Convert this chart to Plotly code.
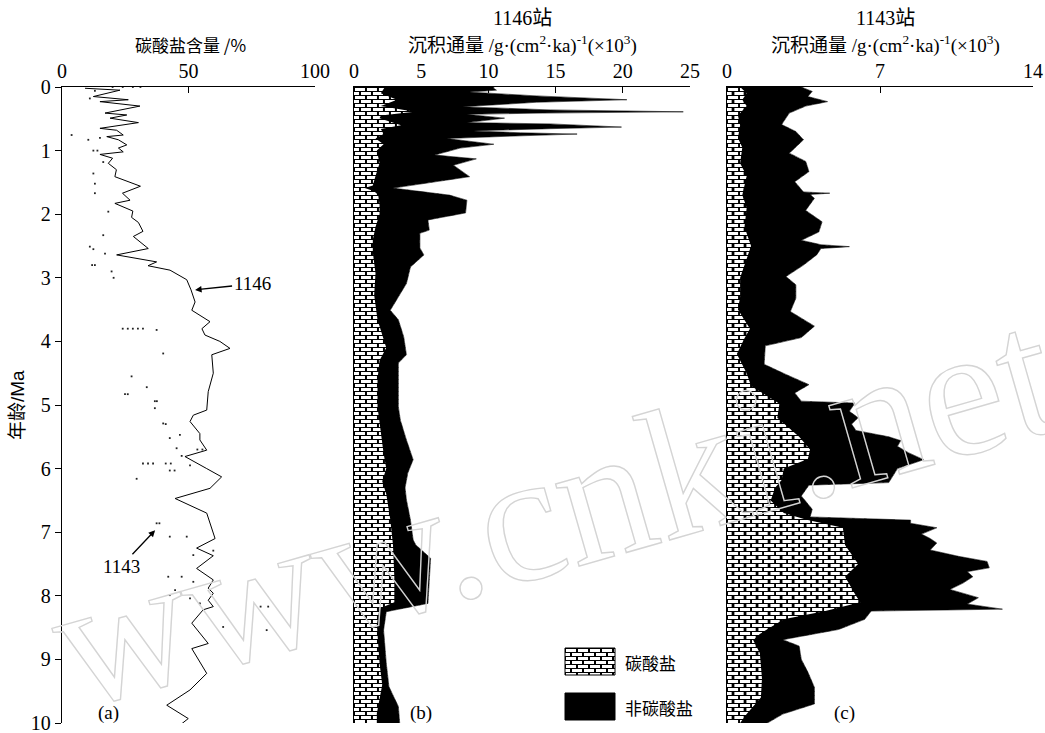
import base64
import plotly.graph_objects as go

# ---------------- data ----------------
# (a) carbonate content, site 1146 (solid line)
age_1146_pct = [0.02, 0.05, 0.15, 0.20, 0.23, 0.30, 0.41, 0.44, 0.49, 0.56,
                0.65, 0.68, 0.755, 0.78, 0.83, 0.91, 0.96, 1.02, 1.06, 1.12,
                1.20, 1.30, 1.41, 1.56, 1.67, 1.78, 1.83, 1.95, 2.05, 2.13,
                2.27, 2.35, 2.54, 2.64, 2.75, 2.81, 2.88, 3.03, 3.19, 3.38,
                3.51, 3.69, 3.80, 3.90, 4.00, 4.11, 4.21, 4.50, 4.79, 5.08,
                5.16, 5.26, 5.45, 5.55, 5.71, 5.81, 6.00, 6.13, 6.31, 6.47,
                6.70, 7.10, 7.25, 7.37, 7.57, 7.75, 7.88, 7.96, 8.07, 8.17,
                8.22, 8.43, 8.75, 8.83, 9.22, 9.48, 9.72, 9.93, 10.06]
pct_1146 = [9.1, 22.9, 12.4, 26.2, 15.0, 30.8, 17.0, 25.6, 19.0, 30.2,
            15.0, 21.6, 24.2, 17.7, 22.3, 25.6, 22.3, 24.2, 15.0, 20.0,
            18.3, 21.5, 20.9, 31.0, 23.9, 26.9, 20.9, 28.0, 27.5, 30.2,
            32.0, 28.2, 34.1, 21.6, 37.4, 34.0, 42.7, 49.3, 51.0, 52.6,
            51.3, 58.5, 55.3, 56.5, 62.4, 66.4, 59.2, 59.8, 57.8, 57.2,
            51.9, 50.6, 54.5, 54.5, 57.2, 48.6, 57.2, 63.1, 58.5, 44.7,
            57.2, 60.5, 53.2, 59.8, 53.2, 59.8, 57.8, 59.8, 57.8, 59.8,
            55.8, 51.3, 57.8, 51.3, 57.2, 50.6, 41.4, 49.9, 45.8]

# (a) carbonate content, site 1143 (dotted)
age_1143_pct = [0.00, 0.00, 0.00, 0.00, 0.06, 0.18, 0.755, 0.80, 0.83, 1.00,
                1.00, 1.18, 1.36, 1.52, 1.67, 1.96, 2.33, 2.51, 2.55, 2.62,
                2.80, 2.80, 2.90, 3.00, 3.80, 3.80, 3.80, 3.80, 3.80, 3.82,
                4.19, 4.55, 4.72, 4.83, 4.83, 4.94, 4.94, 5.05, 5.29, 5.30,
                5.47, 5.52, 5.68, 5.70, 5.70, 5.80, 5.92, 5.92, 5.92, 5.92,
                5.92, 5.95, 6.03, 6.03, 6.16, 6.86, 6.86, 7.07, 7.07, 7.29,
                7.36, 7.70, 7.70, 7.78, 7.91, 7.99, 8.04, 8.12, 8.17, 8.17,
                8.49, 8.54]
pct_1143 = [20, 24, 28, 31, 13, 11, 3.8, 15.0, 10.4, 12.4,
            14.0, 16.3, 12.4, 13.0, 13.0, 18.3, 16.3, 11.0, 12.4, 17.0,
            11.9, 13.0, 19.6, 20.4, 24, 26, 28, 30, 32, 37.4,
            40.0, 27.5, 33.5, 24.9, 26.0, 36.7, 37.5, 36.7, 40.0, 41.0,
            46.6, 42.6, 45.3, 53.5, 55.5, 47.3, 32, 34, 36, 41,
            43, 50.6, 42.6, 44.5, 29.5, 37.4, 38.5, 42.6, 49.3, 59.8,
            51.9, 42.0, 47.3, 51.9, 44.7, 42.6, 50.6, 54.5, 78.5, 81.5,
            63.7, 80.9]

# (b) site 1146 mass accumulation rate: total and carbonate part
age_1146_tot = [0.00, 0.02, 0.05, 0.08, 0.14, 0.20, 0.24, 0.31, 0.36, 0.39,
                0.41, 0.43, 0.49, 0.56, 0.58, 0.63, 0.655, 0.69, 0.72, 0.74,
                0.77, 0.81, 0.90, 0.96, 1.07, 1.13, 1.23, 1.41, 1.59, 1.70,
                1.78, 1.98, 2.09, 2.25, 2.30, 2.53, 2.64, 2.83, 3.09, 3.51,
                3.66, 3.93, 4.21, 4.34, 5.03, 5.24, 5.55, 5.86, 6.07, 6.30,
                6.49, 6.81, 7.12, 7.20, 7.41, 8.12, 8.25, 8.54, 9.06, 9.43,
                9.74, 10.0]
tot_1146 = [10.4, 10.4, 10.6, 8.6, 13.6, 20.3, 13.6, 8.1, 14.6, 24.5,
            14.0, 8.4, 11.2, 8.4, 14.6, 19.9, 14.6, 8.9, 12.4, 16.6,
            12.0, 6.9, 10.4, 7.9, 6.0, 9.1, 7.4, 8.6, 2.9, 7.1,
            8.4, 8.3, 5.5, 5.6, 4.9, 4.9, 5.2, 4.2, 3.9, 2.7,
            3.3, 3.7, 3.9, 3.3, 3.3, 3.45, 3.9, 4.4, 4.0, 3.8,
            3.9, 4.2, 4.4, 4.6, 5.7, 5.5, 2.4, 2.2, 2.4, 2.6,
            3.3, 3.4]
age_1146_carb = [0.00, 0.10, 0.20, 0.30, 0.39, 0.45, 0.49, 0.60, 0.66, 0.74,
                 0.81, 0.90, 1.00, 1.20, 1.40, 1.55, 1.59, 1.64, 1.70, 1.85,
                 2.00, 2.20, 2.40, 2.60, 2.93, 3.27, 3.66, 4.10, 4.30, 4.60,
                 5.03, 5.45, 5.76, 6.00, 6.20, 6.40, 6.80, 7.20, 7.70, 8.10,
                 8.20, 8.45, 9.06, 9.40, 9.85, 10.0]
carb_1146 = [2.3, 2.0, 3.2, 2.0, 4.5, 2.0, 1.9, 3.5, 2.0, 2.2,
             1.6, 2.2, 1.7, 1.9, 1.6, 1.4, 0.8, 1.5, 1.8, 1.9,
             1.9, 1.6, 1.4, 1.4, 1.6, 1.5, 1.75, 2.4, 1.9, 1.75,
             1.75, 2.0, 2.2, 2.4, 2.1, 2.4, 2.7, 2.9, 3.0, 3.0,
             1.9, 1.7, 1.9, 2.1, 1.7, 1.7]

# (c) site 1143 mass accumulation rate: total and carbonate part
age_1143_tot = [0.00, 0.07, 0.15, 0.23, 0.30, 0.41, 0.59, 0.70, 0.83, 0.95,
                1.04, 1.17, 1.33, 1.49, 1.65, 1.67, 1.69, 1.75, 1.94, 2.12,
                2.28, 2.41, 2.48, 2.51, 2.54, 2.64, 2.80, 2.98, 3.11, 3.32,
                3.53, 3.76, 3.94, 4.07, 4.36, 4.52, 4.68, 4.81, 4.94, 4.97,
                5.10, 5.20, 5.30, 5.40, 5.50, 5.56, 5.65, 5.75, 5.86, 6.00,
                6.15, 6.22, 6.26, 6.43, 6.64, 6.76, 6.81, 6.86, 6.93, 7.03,
                7.10, 7.17, 7.28, 7.38, 7.46, 7.56, 7.62, 7.70, 7.80, 7.90,
                8.03, 8.13, 8.21, 8.24, 8.37, 8.53, 8.69, 8.79, 9.00, 9.20,
                9.44, 9.70, 9.86, 10.0]
tot_1143 = [3.4, 3.9, 3.7, 4.6, 3.6, 2.85, 2.5, 3.15, 3.5, 3.1,
            2.85, 3.6, 3.75, 3.1, 3.5, 4.7, 3.8, 4.0, 3.6, 4.35,
            4.2, 3.4, 4.3, 5.6, 4.3, 4.1, 3.5, 2.7, 3.15, 3.15,
            2.9, 4.0, 3.4, 1.75, 1.7, 2.7, 3.75, 3.1, 3.4, 5.85,
            5.6, 6.0, 5.7, 5.9, 7.4, 7.95, 7.8, 8.3, 9.0, 7.8,
            7.5, 7.4, 3.75, 3.4, 3.9, 3.8, 8.4, 8.4, 9.6, 8.9,
            9.3, 9.6, 9.3, 10.6, 11.9, 12.0, 11.0, 11.25, 10.8, 10.2,
            11.5, 11.0, 12.6, 6.6, 6.3, 5.1, 2.55, 3.3, 3.4, 3.7,
            4.0, 4.0, 2.55, 1.85]
age_1143_carb = [0.00, 0.10, 0.20, 0.30, 0.45, 0.60, 0.80, 0.95, 1.20, 1.40,
                 1.70, 1.90, 2.20, 2.50, 2.70, 3.00, 3.30, 3.50, 3.80, 3.95,
                 4.20, 4.50, 4.70, 4.98, 5.20, 5.50, 5.70, 5.85, 6.00, 6.18,
                 6.30, 6.50, 6.70, 6.80, 6.93, 7.20, 7.50, 7.70, 8.00, 8.10,
                 8.24, 8.37, 8.60, 8.70, 8.90, 9.30, 9.60, 9.86, 10.0]
carb_1143 = [0.6, 0.9, 0.7, 0.9, 0.5, 0.6, 0.5, 0.7, 0.6, 0.9,
             0.7, 0.9, 0.8, 1.1, 0.9, 0.6, 0.6, 0.5, 1.05, 0.8,
             0.45, 0.9, 1.1, 2.4, 2.3, 3.3, 3.8, 3.7, 2.6, 2.5,
             2.2, 2.0, 2.6, 3.6, 5.3, 5.4, 6.0, 5.4, 5.9, 6.1,
             4.5, 2.6, 1.5, 1.2, 1.5, 1.6, 1.55, 0.9, 0.6]

age_ticks = list(range(0, 11))
ticks_a = [0, 50, 100]
ticks_b = [0, 5, 10, 15, 20, 25]
ticks_c = [0, 7, 14]

# ---------------- layout helpers ----------------
W, H = 1045, 733
SERIF = "Liberation Serif"
CJK = "Noto Sans CJK SC"
MIXED = "Liberation Serif, Noto Sans CJK SC"


def px(xp):
    return xp / W


def py(yp):
    return 1 - yp / H


DOM_A = [px(62), px(315)]
DOM_B = [px(354), px(690)]
DOM_C = [px(727), px(1033)]
DOM_Y = [py(723), py(87)]


def brick_uri(w, h):
    svg = (f'<svg xmlns="http://www.w3.org/2000/svg" width="{w}" height="{h}" '
           f'viewBox="0 0 {w} {h}" shape-rendering="crispEdges">'
           '<defs><pattern id="br" width="12" height="8" patternUnits="userSpaceOnUse">'
           '<rect width="12" height="8" fill="#000"/>'
           '<rect x="1" y="1" width="10" height="3" fill="#fff"/>'
           '<rect x="-5" y="5" width="10" height="3" fill="#fff"/>'
           '<rect x="7" y="5" width="10" height="3" fill="#fff"/>'
           '</pattern></defs>'
           f'<rect width="{w}" height="{h}" fill="url(#br)"/></svg>')
    return "data:image/svg+xml;base64," + base64.b64encode(svg.encode()).decode()


fig = go.Figure()

# (a) carbonate content
fig.add_trace(go.Scatter(x=pct_1146, y=age_1146_pct, mode="lines",
                         line=dict(color="black", width=1), xaxis="x", yaxis="y"))
fig.add_trace(go.Scatter(x=pct_1143, y=age_1143_pct, mode="markers",
                         marker=dict(symbol="square", size=1.8, color="#222"),
                         xaxis="x", yaxis="y"))


def flux_panel(xa, ya, age_c, carb, age_t, tot, xmax):
    # carbonate edge (bricks show through on its left)
    fig.add_trace(go.Scatter(x=carb, y=age_c, mode="lines",
                             line=dict(color="black", width=0),
                             xaxis=xa, yaxis=ya))
    # non-carbonate: black band between carbonate and total
    fig.add_trace(go.Scatter(x=tot, y=age_t, mode="lines", fill="tonextx",
                             fillcolor="black", line=dict(color="black", width=0.6),
                             xaxis=xa, yaxis=ya))
    # blank the area right of the total flux
    fig.add_trace(go.Scatter(x=[xmax * 1.1, xmax * 1.1], y=[-0.5, 10.5], mode="lines",
                             fill="tonextx", fillcolor="white",
                             line=dict(color="white", width=0),
                             xaxis=xa, yaxis=ya))


flux_panel("x2", "y2", age_1146_carb, carb_1146, age_1146_tot, tot_1146, 25)
flux_panel("x3", "y3", age_1143_carb, carb_1143, age_1143_tot, tot_1143, 14)

xcommon = dict(side="top", showline=True, linecolor="black", linewidth=1.3,
               ticks="inside", ticklen=6, tickwidth=1.3, tickcolor="black",
               showgrid=False, zeroline=False, fixedrange=True, automargin=False,
               ticklabeloverflow="allow",
               tickfont=dict(family=SERIF, size=20, color="black"))
ycommon = dict(range=[10, 0], domain=DOM_Y, showgrid=False, zeroline=False,
               showline=True, linecolor="black", linewidth=1.3, fixedrange=True,
               automargin=False)

fig.update_layout(
    width=W, height=H, autosize=False,
    margin=dict(l=0, r=0, t=0, b=0, pad=0),
    paper_bgcolor="white", plot_bgcolor="rgba(0,0,0,0)",
    showlegend=False,
    xaxis=dict(domain=DOM_A, range=[0, 100], tickvals=ticks_a, anchor="y", **xcommon),
    xaxis2=dict(domain=DOM_B, range=[0, 25], tickvals=ticks_b, anchor="y2", **xcommon),
    xaxis3=dict(domain=DOM_C, range=[0, 14], tickvals=ticks_c, anchor="y3", **xcommon),
    yaxis=dict(anchor="x", tickvals=age_ticks, ticks="outside", ticklen=6,
               tickwidth=1.3, tickcolor="black", ticklabeloverflow="allow",
               tickfont=dict(family=SERIF, size=20, color="black"), **ycommon),
    yaxis2=dict(anchor="x2", showticklabels=False, ticks="", **ycommon),
    yaxis3=dict(anchor="x3", showticklabels=False, ticks="", **ycommon),
)

# brick texture for the carbonate fraction (drawn under the traces)
fig.add_layout_image(source=brick_uri(101, 636), xref="x2 domain", yref="y2 domain",
                     x=0, y=1, sizex=0.3, sizey=1, xanchor="left", yanchor="top",
                     sizing="stretch", layer="below")
fig.add_layout_image(source=brick_uri(168, 636), xref="x3 domain", yref="y3 domain",
                     x=0, y=1, sizex=0.55, sizey=1, xanchor="left", yanchor="top",
                     sizing="stretch", layer="below")

# legend swatches
fig.add_layout_image(source=brick_uri(50, 27), xref="paper", yref="paper",
                     x=px(565), y=py(648), sizex=px(50), sizey=27 / H,
                     xanchor="left", yanchor="top", sizing="stretch", layer="above")
fig.add_shape(type="rect", xref="paper", yref="paper", x0=px(565), x1=px(615),
              y0=py(675), y1=py(648), line=dict(color="black", width=1),
              fillcolor="rgba(0,0,0,0)")
fig.add_shape(type="rect", xref="paper", yref="paper", x0=px(565), x1=px(615),
              y0=py(720), y1=py(693), line=dict(color="black", width=1),
              fillcolor="black")


def label(text, x, y, size=18, family=MIXED, angle=0, xanchor="center"):
    fig.add_annotation(text=text, x=px(x), y=py(y), xref="paper", yref="paper",
                       showarrow=False, textangle=angle, xanchor=xanchor,
                       yanchor="middle",
                       font=dict(family=family, size=size, color="black"))


label("碳酸盐含量 /%", 190, 45, size=17, family=CJK)
label("1146站", 522, 18, size=20)
label("沉积通量 /g·(cm<sup>2</sup>·ka)<sup>-1</sup>(×10<sup>3</sup>)", 522, 45, size=19)
label("1143站", 885, 18, size=20)
label("沉积通量 /g·(cm<sup>2</sup>·ka)<sup>-1</sup>(×10<sup>3</sup>)", 885, 45, size=19)
label("年龄/Ma", 17, 405, size=19, family="Liberation Sans, Noto Sans CJK SC", angle=-90)
label("(a)", 108, 713, size=19, family=SERIF)
label("(b)", 421, 713, size=19, family=SERIF)
label("(c)", 844, 713, size=19, family=SERIF)
label("碳酸盐", 623, 662, size=17, family=CJK, xanchor="left")
label("非碳酸盐", 623, 707, size=17, family=CJK, xanchor="left")

# site labels with arrows in panel (a)
fig.add_annotation(text="1146", x=52.6, y=3.19, xref="x", yref="y",
                   ax=57, ay=-6, showarrow=True, arrowhead=2, arrowsize=1,
                   arrowwidth=1.3, arrowcolor="black",
                   font=dict(family=SERIF, size=19, color="black"))
fig.add_annotation(text="1143", x=36.8, y=6.97, xref="x", yref="y",
                   ax=-34, ay=36, showarrow=True, arrowhead=2, arrowsize=1,
                   arrowwidth=1.3, arrowcolor="black",
                   font=dict(family=SERIF, size=19, color="black"))

# outlined watermark
fig.add_annotation(text="www.cnki.net", x=px(553), y=py(752), xref="paper", yref="paper",
                   showarrow=False, textangle=-16,
                   font=dict(family=SERIF, size=186, color="rgb(212,212,212)"))

post = """
(function(){
  var gd = document.getElementById('{plot_id}');
  function outline(){
    gd.querySelectorAll('text.annotation-text').forEach(function(t){
      if (t.textContent === 'www.cnki.net') {
        t.style.fill = 'none';
        t.style.stroke = 'rgb(212,212,212)';
        t.style.strokeWidth = '1.4px';
      }
    });
  }
  outline();
  if (gd.on) gd.on('plotly_afterplot', outline);
})();
"""

fig.write_html("out.html", post_script=post, config={"displayModeBar": False})
